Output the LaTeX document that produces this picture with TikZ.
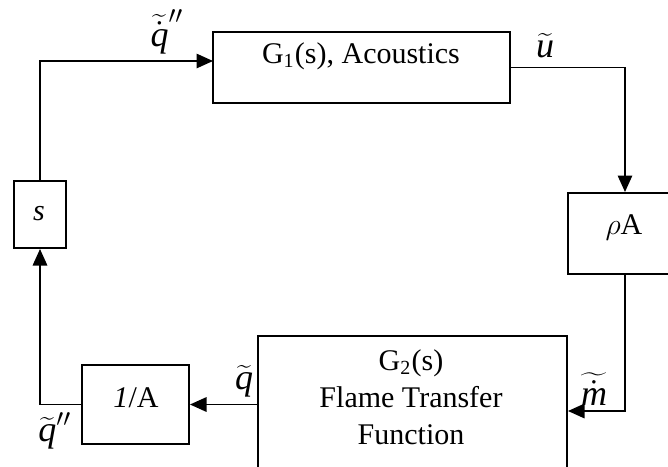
\documentclass[tikz,border=0pt]{standalone}
\usepackage{fontspec}
\setmainfont{Liberation Serif}
\usetikzlibrary{arrows.meta,fit}
\newcommand{\itl}[1]{\mbox{\itshape #1}}
\tikzset{
  blk/.style={draw, line width=0.8pt, inner sep=0pt},
  arr/.style={line width=0.6pt, -{Triangle[length=6.6pt,width=5.8pt]}},
  lbl/.style={inner sep=0pt, font=\fontsize{12}{14.8}\selectfont},
  sig/.style={inner sep=0pt, font=\fontsize{14.4}{16}\selectfont}
}
\begin{document}
\begin{tikzpicture}[x=0.4pt,y=-0.4pt]
\useasboundingbox (0,0) rectangle (668,467);
\clip (0,0) rectangle (668,467);
% boxes
\node[blk, fit={(213,32) (510,103)}] (g1) {};
\node[blk, fit={(568,193) (682,274)}] (rho) {};
\node[blk, fit={(258,336) (567,486)}] (g2) {};
\node[blk, fit={(82,365) (189,444)}] (inv) {};
\node[blk, fit={(14,181) (66,248)}] (s) {};
% box texts
\node[lbl] (g1t) at (361,56) {G\textsubscript{1}(s), Acoustics};
\node[lbl] (rhot) at (624,228) {$\rho$A};
\node[lbl, align=center] (g2t) at (411,397) {G\textsubscript{2}(s)\\Flame Transfer\\Function};
\node[lbl] (invt) at (136,398) {\textit{1}/A};
\node[lbl] (st) at (39,214) {\textit{s}};
% connectors
\coordinate (c1) at (213,61);
\draw[arr] (s.north) |- (c1);
\draw[arr] (g1.east) -| (rho.north);
\draw[arr] (rho.south) |- (g2.east);
\draw[arr] (g2.west |- inv.east) -- (inv.east);
\draw[arr] (inv.west) -| (s.south);
% signal labels
\node[sig] (lqdd) at (167,32) {$\widetilde{\dot{\itl{q}}}''$};
\node[sig] (lu) at (545,46) {$\widetilde{\itl{u}}$};
\node[sig] (lq) at (244,381) {$\widetilde{\itl{q}}$};
\node[sig] (lqpp) at (55,431) {$\widetilde{\itl{q}}''$};
\node[sig] (lm) at (594,389) {$\widetilde{\dot{\itl{m}}}$};
\end{tikzpicture}
\end{document}
